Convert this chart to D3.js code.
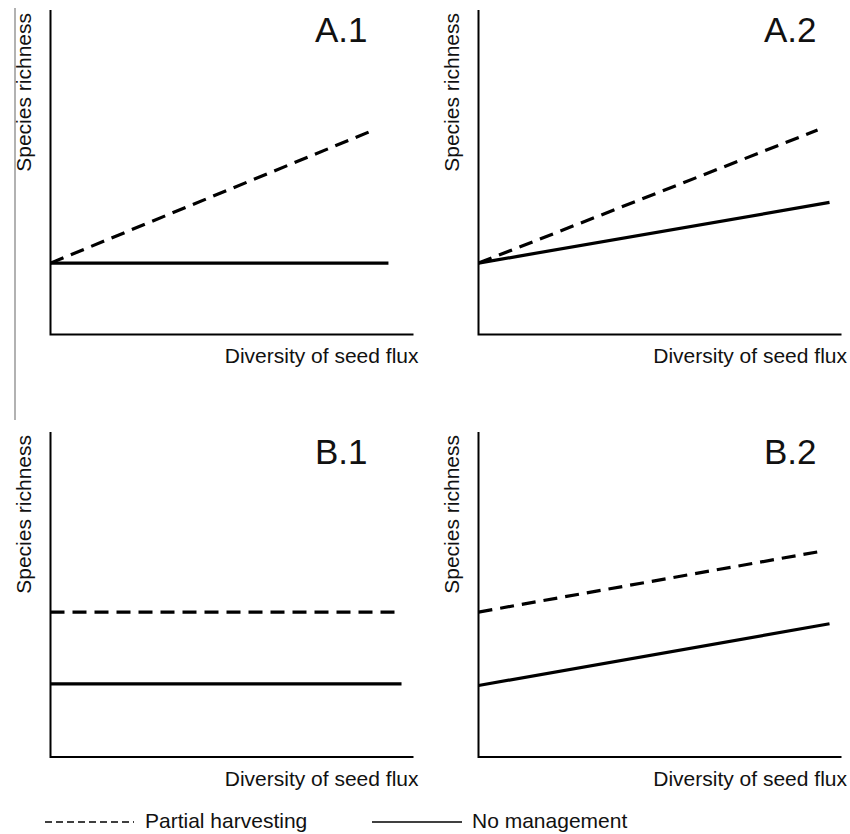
<!DOCTYPE html>
<html>
<head>
<meta charset="utf-8">
<script src="https://cdn.jsdelivr.net/npm/d3@7"></script>
<style>
  body { margin: 0; background: #fff; }
  text { font-family: "Liberation Sans", Arial, sans-serif; fill: #111; }
</style>
</head>
<body>
<script>
//panel names and conceptual line values (x and y both on a 0-10 scale)
let panelNames = ["A.1", "A.2", "B.1", "B.2"];
let partialStartY = [2.2, 2.2, 4.46, 4.46];
let partialEndY = [6.3, 6.3, 4.46, 6.31];
let partialEndX = [8.9, 9.34, 9.64, 9.34];
let noMgmtStartY = [2.2, 2.2, 2.25, 2.2];
let noMgmtEndY = [2.2, 4.07, 2.25, 4.1];
let noMgmtEndX = [9.31, 9.67, 9.67, 9.67];
let xLabel = "Diversity of seed flux",
    yLabel = "Species richness";
let legendNames = ["Partial harvesting", "No management"];

window.onload = draw();

function draw() {
    let width = 850,
        height = 834;

    let svg = d3.select("body")
        .append("svg")
        .attr("width", width)
        .attr("height", height);

    //stray thin rule on the left of the original figure
    svg.append("line")
        .attr("x1", 15).attr("x2", 15)
        .attr("y1", 8).attr("y2", 420)
        .attr("stroke", "#999")
        .attr("stroke-width", 1.5);

    //axis frame positions of each panel
    let left = [50.5, 478.5, 50.5, 478.5],
        top = [10, 10, 432, 432],
        bottom = [334.5, 334.5, 757, 757],
        axisW = 363;

    panelNames.forEach(function (name, i) {
        let x = d3.scaleLinear().domain([0, 10]).range([left[i], left[i] + axisW]);
        let y = d3.scaleLinear().domain([0, 10]).range([bottom[i], top[i]]);
        let g = svg.append("g");

        //axes (no ticks)
        g.append("path")
            .attr("d", d3.line()([[x(0), y(10)], [x(0), y(0)], [x(10), y(0)]]))
            .attr("fill", "none")
            .attr("stroke", "#000")
            .attr("stroke-width", 2);

        let line = d3.line().x(d => x(d[0])).y(d => y(d[1]));

        g.append("path")
            .attr("d", line([[0, noMgmtStartY[i]], [noMgmtEndX[i], noMgmtEndY[i]]]))
            .attr("stroke", "#000")
            .attr("stroke-width", 3.2)
            .attr("fill", "none");

        g.append("path")
            .attr("d", line([[0, partialStartY[i]], [partialEndX[i], partialEndY[i]]]))
            .attr("stroke", "#000")
            .attr("stroke-width", 3.2)
            .attr("stroke-dasharray", "14,8")
            .attr("fill", "none");

        //panel name
        g.append("text")
            .attr("x", x(10) - (i % 2 == 0 ? 46 : 25))
            .attr("y", top[i] + 32)
            .attr("text-anchor", "end")
            .style("font-size", "35px")
            .text(name);

        //axis titles
        g.append("text")
            .attr("x", x(10) + (i % 2 == 0 ? 5 : 5.5))
            .attr("y", y(0) + 28.5)
            .attr("text-anchor", "end")
            .style("font-size", "21px")
            .text(xLabel);

        g.append("text")
            .attr("transform", "translate(" + (x(0) - 20) + "," + (top[i] + 3) + ") rotate(-90)")
            .attr("text-anchor", "end")
            .style("font-size", "21px")
            .text(yLabel);
    });

    //legend
    let legend = svg.append("g");
    legend.append("line")
        .attr("x1", 45).attr("x2", 134)
        .attr("y1", 822).attr("y2", 822)
        .attr("stroke", "#000")
        .attr("stroke-width", 1.3)
        .attr("stroke-dasharray", "7,4");
    legend.append("text")
        .attr("x", 145).attr("y", 828)
        .style("font-size", "21px")
        .text(legendNames[0]);
    legend.append("line")
        .attr("x1", 372).attr("x2", 462)
        .attr("y1", 822).attr("y2", 822)
        .attr("stroke", "#000")
        .attr("stroke-width", 1.3);
    legend.append("text")
        .attr("x", 472).attr("y", 828)
        .style("font-size", "21px")
        .text(legendNames[1]);
}
</script>
</body>
</html>
